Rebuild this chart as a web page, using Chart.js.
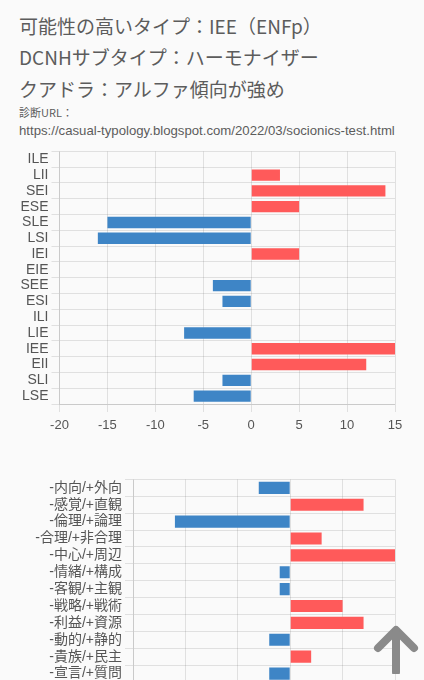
<!DOCTYPE html>
<html><head><meta charset="utf-8">
<script src="https://cdn.jsdelivr.net/npm/chart.js@4/dist/chart.umd.min.js"></script>
<style>
html,body{margin:0;padding:0;background:#fafafa;width:424px;height:680px;overflow:hidden;}
body{position:relative;font-family:"Noto Sans CJK JP","Noto Sans",sans-serif;color:#5c5c5c;}
.t{position:absolute;left:19px;white-space:nowrap;}
.h{font-size:19px;}
canvas{position:absolute;left:0;}
#arrow{position:absolute;left:373px;top:624px;}
</style></head>
<body>
<div class="t h" style="top:12px">可能性の高いタイプ：IEE（ENFp）</div>
<div class="t h" style="top:43px">DCNHサブタイプ：ハーモナイザー</div>
<div class="t h" style="top:75px">クアドラ：アルファ傾向が強め</div>
<div class="t" style="top:104px;font-size:11px">診断URL：</div>
<div class="t" style="top:123px;font-size:13.2px;font-family:'Liberation Sans','Noto Sans',sans-serif">https://casual-typology.blogspot.com/2022/03/socionics-test.html</div>
<canvas id="c1" width="424" height="300" style="top:140px"></canvas>
<canvas id="c2" width="424" height="260" style="top:468px"></canvas>
<svg id="arrow" width="46" height="50" viewBox="0 0 46 50">
<path d="M5 24 L23 6 L41 24" fill="none" stroke="#8a8a8a" stroke-width="8" stroke-linecap="round" stroke-linejoin="round"/>
<line x1="23" y1="8" x2="23" y2="48" stroke="#8a8a8a" stroke-width="8" stroke-linecap="round"/>
</svg>
<script>
const types = ["ILE","LII","SEI","ESE","SLE","LSI","IEI","EIE","SEE","ESI","ILI","LIE","IEE","EII","SLI","LSE"];
const typeScores = [0,3,14,5,-15,-16,5,0,-4,-3,0,-7,15,12,-3,-6];
const typeTicks = [-20,-15,-10,-5,0,5,10,15];

const dichotomies = ["-内向/+外向","-感覚/+直観","-倫理/+論理","-合理/+非合理","-中心/+周辺","-情緒/+構成","-客観/+主観","-戦略/+戦術","-利益/+資源","-動的/+静的","-貴族/+民主","-宣言/+質問"];
const dichotomyScores = [-3,7,-11,3,10,-1,-1,5,7,-2,2,-2];
const dichotomyTicks = [-15,-10,-5,0,5,10];

const RED = "#ff5a5a", BLUE = "#3e85c6";
Chart.defaults.font.family = "'Liberation Sans','Noto Sans CJK JP',sans-serif";
Chart.defaults.color = "#555";

function makeChart(id, labels, data, ticks, yWidth, padding, xHeight, fontSize){
  return new Chart(document.getElementById(id), {
    type: "bar",
    data: { labels: labels, datasets: [{ data: data,
      backgroundColor: ctx => (ctx.raw >= 0 ? RED : BLUE), borderWidth: 0 }] },
    options: {
      indexAxis: "y", responsive: false, animation: false, devicePixelRatio: 1,
      layout: { padding: padding },
      plugins: { legend: { display: false }, tooltip: { enabled: false } },
      scales: {
        x: { min: ticks[0], max: ticks[ticks.length-1],
             afterBuildTicks: s => { s.ticks = ticks.map(v => ({value: v})); },
             afterFit: s => { s.height = xHeight; },
             grid: { color: "rgba(0,0,0,0.1)" },
             ticks: { font: { size: 13 }, padding: 6, color: "#555" } },
        y: { afterFit: s => { s.width = yWidth; },
             grid: { color: "rgba(0,0,0,0.1)" },
             ticks: { font: { size: fontSize }, color: "#555", autoSkip: false } }
      }
    }
  });
}
makeChart("c1", types, typeScores, typeTicks, 59.5, {left:0, right:29, top:1, bottom:0}, 36, 14);
makeChart("c2", dichotomies, dichotomyScores, dichotomyTicks, 133, {left:0, right:29, top:1, bottom:0}, 46, 14);
</script>
</body></html>
